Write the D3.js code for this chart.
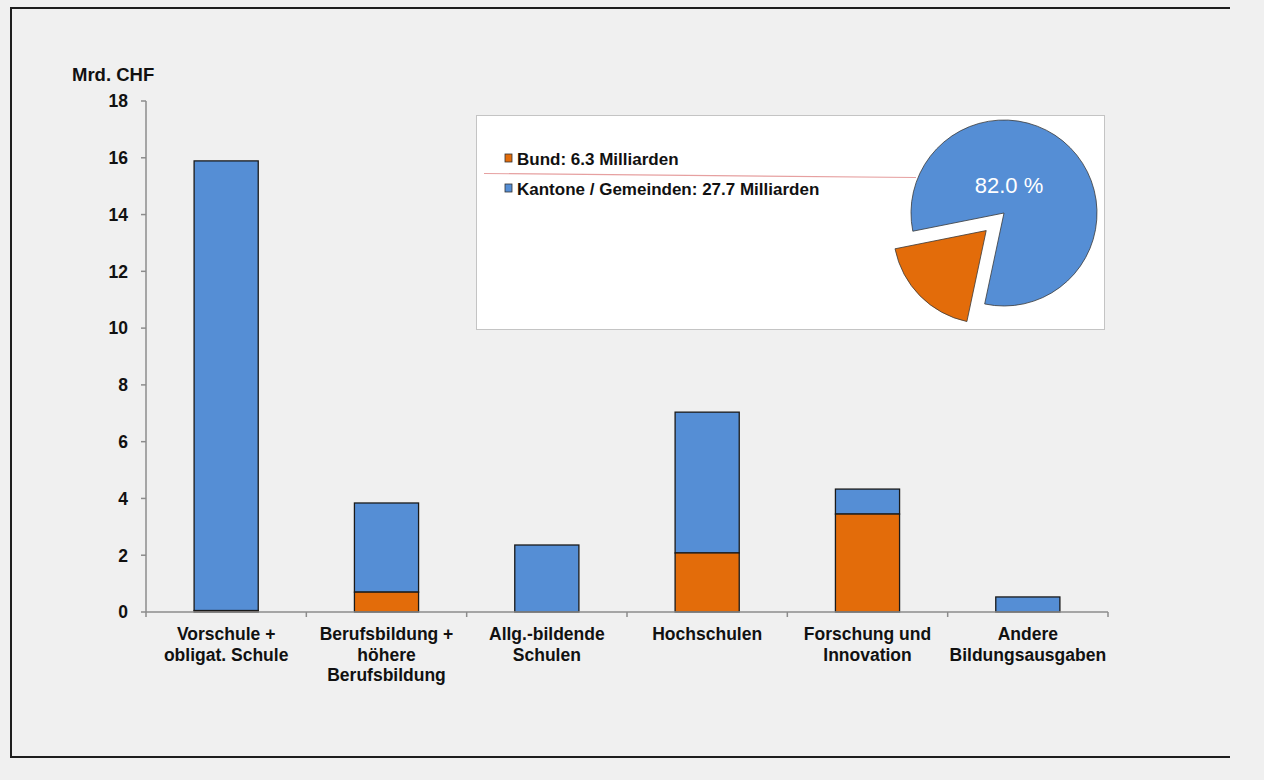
<!DOCTYPE html>
<html>
<head>
<meta charset="utf-8">
<script src="https://cdn.jsdelivr.net/npm/d3@7"></script>
<style>
  body { margin: 0; background: #f0f0f0; }
  svg { display: block; font-family: "Liberation Sans", Arial, sans-serif; }
  .tick-label { font-size: 17.5px; font-weight: bold; fill: #111; }
</style>
</head>
<body>
<div id="chart"></div>
<script>
// data
var categories = [
    ["Vorschule +", "obligat. Schule"],
    ["Berufsbildung +", "höhere", "Berufsbildung"],
    ["Allg.-bildende", "Schulen"],
    ["Hochschulen"],
    ["Forschung und", "Innovation"],
    ["Andere", "Bildungsausgaben"]
];
var bund = [0.05, 0.70, 0.0, 2.08, 3.45, 0.0];
var kantone = [15.84, 3.14, 2.36, 4.96, 0.88, 0.53];
var yTicks = [0, 2, 4, 6, 8, 10, 12, 14, 16, 18];
var pieLabels = ["Bund: 6.3 Milliarden", "Kantone / Gemeinden: 27.7 Milliarden"];
var pieValues = [6.3, 27.7];
var pieShareText = "82.0 %";

var colors = { bund: "#e36c0a", kantone: "#558ed5" };

var W = 1264, H = 780;
var margin = {left: 146, top: 101, right: 156, bottom: 168};

var svg = d3.select("#chart").append("svg")
    .attr("width", W)
    .attr("height", H);

// frame (left, top, bottom only)
svg.append("path")
    .attr("d", "M1230,8 L11,8 L11,757 L1230,757")
    .attr("fill", "none")
    .attr("stroke", "#1e1e1e")
    .attr("stroke-width", 2);

var plotW = W - margin.left - margin.right,
    plotH = H - margin.top - margin.bottom;

var g = svg.append("g")
    .attr("transform", "translate(" + margin.left + "," + margin.top + ")");

var x = d3.scaleBand()
    .domain(d3.range(categories.length))
    .range([0, plotW])
    .paddingInner(0.6)
    .paddingOuter(0.3);

var y = d3.scaleLinear()
    .domain([0, 18])
    .range([plotH, 0]);

// y axis
g.append("line")
    .attr("x1", 0).attr("x2", 0)
    .attr("y1", y(18)).attr("y2", y(0))
    .attr("stroke", "#8c8c8c").attr("stroke-width", 1.5);

g.selectAll(".ytick").data(yTicks).enter().append("line")
    .attr("x1", -5).attr("x2", 0)
    .attr("y1", d => y(d)).attr("y2", d => y(d))
    .attr("stroke", "#8c8c8c").attr("stroke-width", 1.5);

g.selectAll(".ylab").data(yTicks).enter().append("text")
    .attr("class", "tick-label")
    .attr("x", -18)
    .attr("y", d => y(d))
    .attr("dy", "0.36em")
    .attr("text-anchor", "end")
    .text(d => d);

g.append("text")
    .attr("class", "tick-label")
    .style("font-size", "18.5px")
    .attr("x", -74)
    .attr("y", -20)
    .text("Mrd. CHF");

// bars
var stacked = categories.map(function(c, i) {
    return {i: i, bund: bund[i], kantone: kantone[i]};
});

var bars = g.selectAll(".bar").data(stacked).enter().append("g");

bars.append("rect")
    .attr("x", d => x(d.i))
    .attr("width", x.bandwidth())
    .attr("y", d => y(d.bund + d.kantone))
    .attr("height", d => y(d.bund) - y(d.bund + d.kantone))
    .attr("fill", colors.kantone)
    .attr("stroke", "#1a1a1a").attr("stroke-width", 1.3);

bars.filter(d => d.bund > 0).append("rect")
    .attr("x", d => x(d.i))
    .attr("width", x.bandwidth())
    .attr("y", d => y(d.bund))
    .attr("height", d => y(0) - y(d.bund))
    .attr("fill", colors.bund)
    .attr("stroke", "#1a1a1a").attr("stroke-width", 1.3);

// x axis
g.append("line")
    .attr("x1", 0).attr("x2", plotW)
    .attr("y1", y(0)).attr("y2", y(0))
    .attr("stroke", "#8c8c8c").attr("stroke-width", 1.5);

g.selectAll(".xtick").data(d3.range(categories.length + 1)).enter().append("line")
    .attr("x1", d => d * x.step()).attr("x2", d => d * x.step())
    .attr("y1", y(0)).attr("y2", y(0) + 5)
    .attr("stroke", "#8c8c8c").attr("stroke-width", 1.5);

var xl = g.selectAll(".xlab").data(categories).enter().append("text")
    .attr("class", "tick-label")
    .attr("text-anchor", "middle")
    .attr("transform", (d, i) => "translate(" + (x(i) + x.bandwidth() / 2) + "," + (y(0) + 28) + ")");

xl.selectAll("tspan").data(d => d).enter().append("tspan")
    .attr("x", 0)
    .attr("y", (d, j) => j * 20.5)
    .text(d => d);

// inset pie
var inset = svg.append("g");
inset.append("rect")
    .attr("x", 476.5).attr("y", 115.5)
    .attr("width", 628).attr("height", 214)
    .attr("fill", "#ffffff")
    .attr("stroke", "#c4c4c4").attr("stroke-width", 1);

var pieColors = [colors.bund, colors.kantone];

// leader line
inset.append("line")
    .attr("x1", 484).attr("y1", 173.5)
    .attr("x2", 916).attr("y2", 177.5)
    .attr("stroke", "#e6a0a0").attr("stroke-width", 1.2);

var leg = inset.selectAll(".leg").data(pieLabels).enter().append("g")
    .attr("transform", (d, i) => "translate(505," + (154 + i * 30) + ")");

leg.append("rect")
    .attr("width", 7).attr("height", 8)
    .attr("fill", (d, i) => pieColors[i])
    .attr("stroke", "#333").attr("stroke-width", 0.8);

leg.append("text")
    .attr("class", "tick-label")
    .style("font-size", "17px")
    .attr("x", 12)
    .attr("y", 10.5)
    .text(d => d);

var cx = 1004, cy = 213, r = 93;
var startA = 192 * Math.PI / 180;
var pie = d3.pie().sort(null)
    .startAngle(startA)
    .endAngle(startA + 2 * Math.PI);
var arc = d3.arc().innerRadius(0).outerRadius(r);
var arcs = pie(pieValues);

var pg = inset.append("g").attr("transform", "translate(" + cx + "," + cy + ")");

pg.selectAll("path").data(arcs).enter().append("path")
    .attr("d", arc)
    .attr("transform", function(d, i) {
        if (i !== 0) return null;
        var a = (d.startAngle + d.endAngle) / 2;
        return "translate(" + (25 * Math.sin(a)) + "," + (-25 * Math.cos(a)) + ")";
    })
    .attr("fill", (d, i) => pieColors[i])
    .attr("stroke", "#3a3a3a").attr("stroke-width", 0.8);

pg.append("text")
    .attr("x", 5)
    .attr("y", -20)
    .attr("text-anchor", "middle")
    .attr("fill", "#ffffff")
    .style("font-size", "22px")
    .text(pieShareText);
</script>
</body>
</html>
